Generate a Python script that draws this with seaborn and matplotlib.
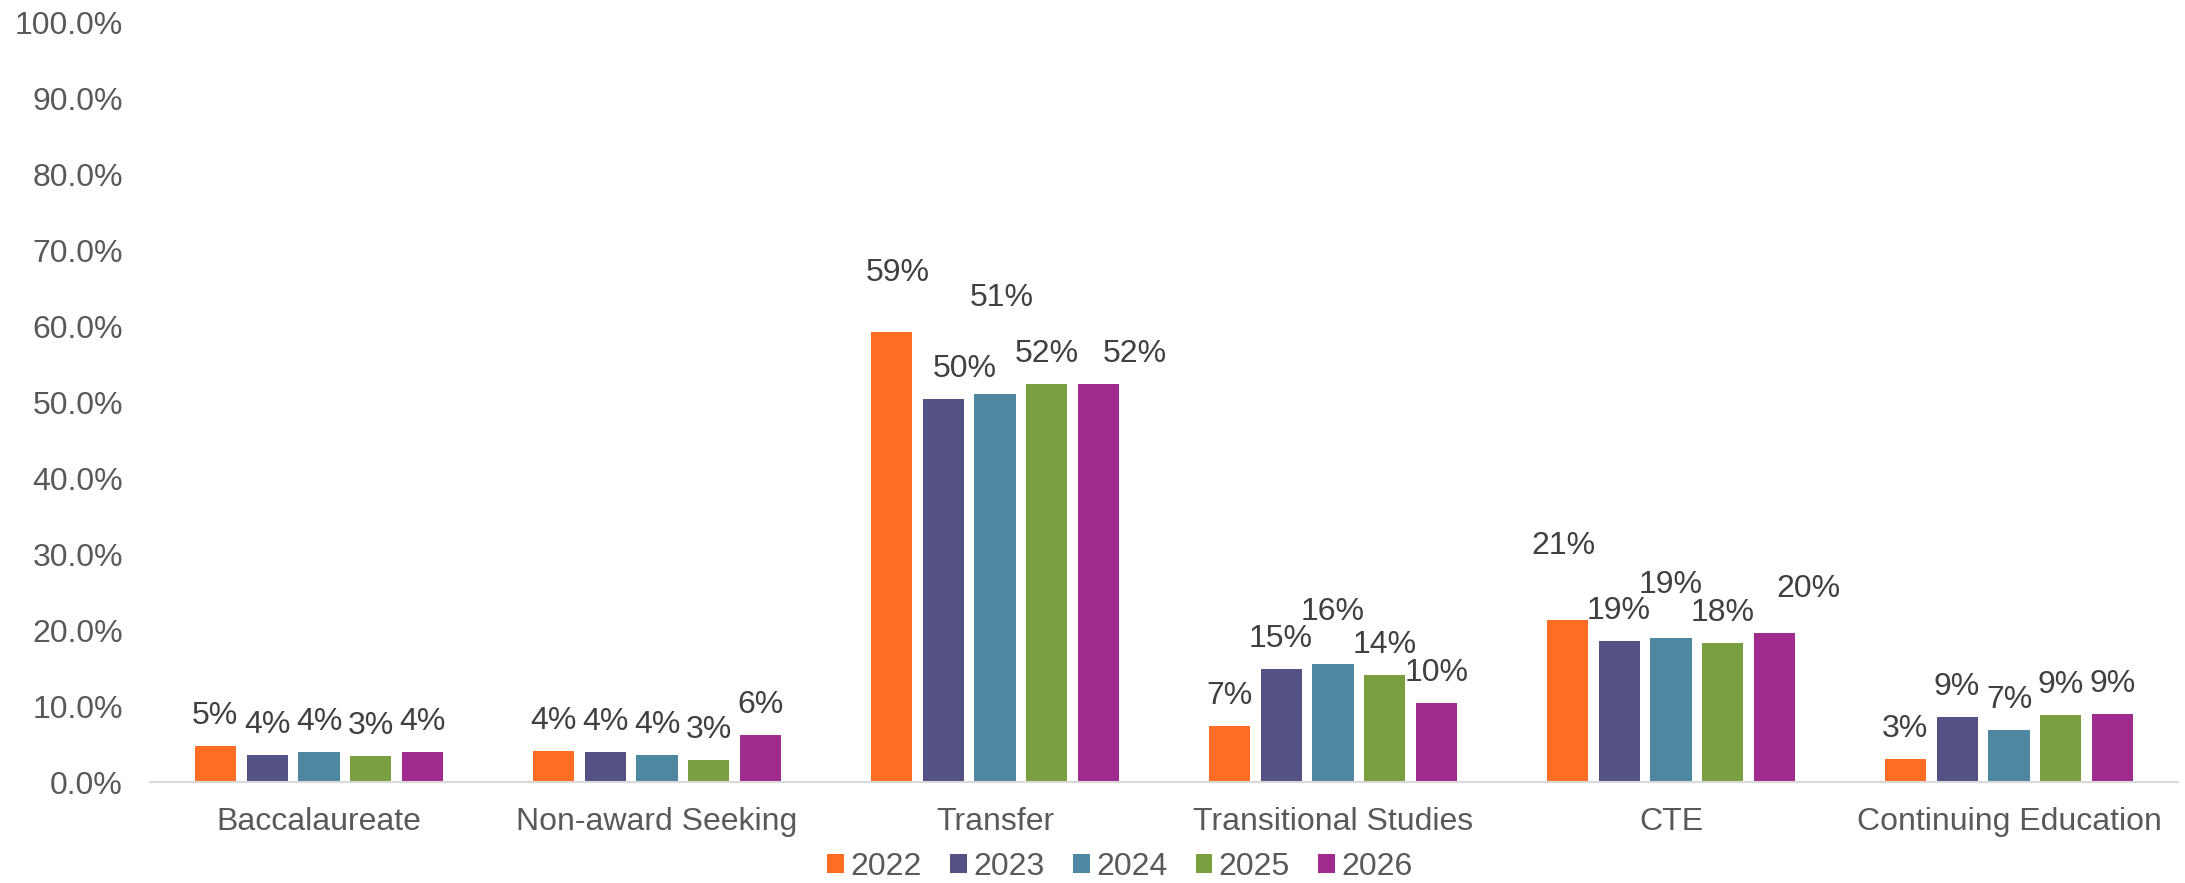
import pandas as pd
import numpy as np
import seaborn as sns
import matplotlib.pyplot as plt
from matplotlib.ticker import FuncFormatter

# Категории и годы
categories = ["Baccalaureate", "Non-award Seeking", "Transfer",
              "Transitional Studies", "CTE", "Continuing Education"]
years = ["2022", "2023", "2024", "2025", "2026"]

# Доли (%) по годам
share_2022 = [4.7, 4.1, 59.3, 7.4, 21.4, 3.0]
share_2023 = [3.52, 4.0, 50.4, 14.9, 18.6, 8.6]
share_2024 = [3.9, 3.52, 51.1, 15.6, 19.0, 6.9]
share_2025 = [3.38, 2.9, 52.4, 14.1, 18.3, 8.8]
share_2026 = [3.9, 6.2, 52.4, 10.4, 19.6, 9.0]

colors = ["#FF6D25", "#545284", "#4D87A1", "#7A9F41", "#9F2B8F"]

# Смещения подписей (пиксели) там, где они сдвинуты вручную
label_shift = {
    ("Transfer", "2022"): (7, 59),
    ("Transfer", "2023"): (22, 30),
    ("Transfer", "2024"): (7, 96),
    ("Transfer", "2026"): (36, 30),
    ("Transitional Studies", "2024"): (0, 52),
    ("CTE", "2022"): (-4, 74),
    ("CTE", "2024"): (0, 53),
    ("CTE", "2026"): (34, 44),
}

series = [share_2022, share_2023, share_2024, share_2025, share_2026]
df = pd.DataFrame({
    "category": np.tile(categories, len(years)),
    "year": np.repeat(years, len(categories)),
    "share": np.concatenate(series),
})

sns.set_style("white")
plt.rcParams["font.family"] = ["Liberation Sans", "DejaVu Sans"]

fig = plt.figure(figsize=(21.85, 8.83), dpi=100)
ax = fig.add_axes([150 / 2185, 101 / 883, 2028 / 2185, 759 / 883])

sns.barplot(
    data=df, x="category", y="share", hue="year",
    order=categories, hue_order=years, palette=colors, saturation=1,
    width=0.768, gap=0.21, linewidth=0, ax=ax,
)

# Подписи значений
for year, cont in zip(years, ax.containers):
    for cat, bar in zip(categories, cont):
        h = bar.get_height()
        dx, dy = label_shift.get((cat, year), (0, 30))
        ax.annotate(f"{h:.0f}%", (bar.get_x() + bar.get_width() / 2, h),
                    xytext=(dx, dy), textcoords="offset pixels",
                    ha="center", va="center", fontsize=23, color="#404040")

ax.set_ylim(0, 100)
ax.set_yticks(np.arange(0, 101, 10))
ax.yaxis.set_major_formatter(FuncFormatter(lambda v, p: f"{v:.1f}%"))
ax.set_xlabel("")
ax.set_ylabel("")
ax.tick_params(axis="y", length=0, pad=19.5, labelsize=23, labelcolor="#595959")
ax.tick_params(axis="x", length=0, pad=18, labelsize=23, labelcolor="#595959")

for side in ["top", "right", "left"]:
    ax.spines[side].set_visible(False)
ax.spines["bottom"].set_color("#D9D9D9")
ax.spines["bottom"].set_linewidth(1.5)

sns.move_legend(
    ax, "center", bbox_to_anchor=(1120 / 2185, 16 / 883),
    bbox_transform=fig.transFigure, ncol=5, frameon=False, title=None,
    fontsize=23, handlelength=0.53, handleheight=0.53,
    handletextpad=0.2, columnspacing=0.88, labelcolor="#595959",
)

plt.savefig("out.png", dpi=100)
